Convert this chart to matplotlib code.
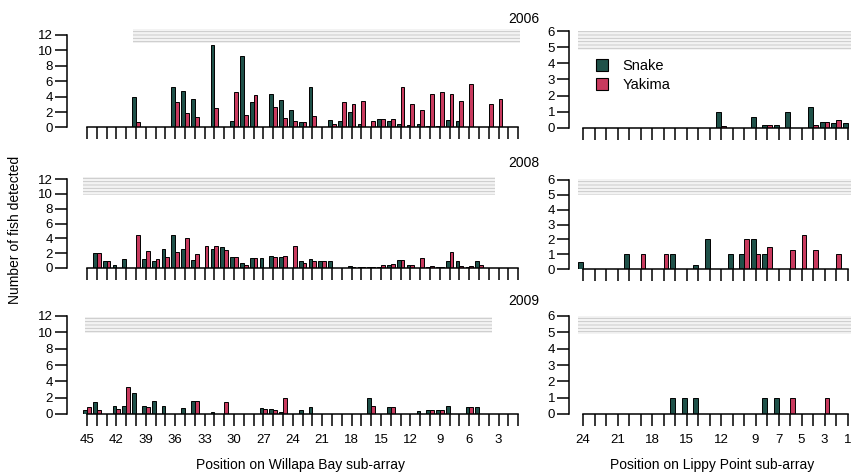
import numpy as np
import matplotlib
matplotlib.use('Agg')
import matplotlib.pyplot as plt
from matplotlib.patches import Patch, Rectangle

plt.rcParams['font.family'] = ['Liberation Sans', 'DejaVu Sans']
plt.rcParams['hatch.linewidth'] = 0.6
plt.rcParams['axes.linewidth'] = 1.1

# Willapa Bay sub-array, positions 45 -> 1
willapa_pos = np.arange(45, 0, -1)
willapa_ticklabels = [str(p) if p % 3 == 0 else '' for p in willapa_pos]

w06_snake = [0, 0, 0, 0, 0, 4.0, 0, 0, 0, 5.3, 4.7, 3.7, 0, 10.7, 0, 0.9, 9.3, 3.3, 0, 4.3, 3.6, 2.3, 0.7,
             5.3, 0, 1.0, 0.9, 2.0, 0.5, 0, 1.1, 0.9, 0.5, 0.35, 0.4, 0.2, 0.2, 1.0, 0.9, 0, 0, 0, 0, 0, 0]
w06_yakima = [0, 0, 0, 0, 0, 0.7, 0, 0, 0, 3.3, 1.9, 1.4, 0, 2.5, 0, 4.6, 1.6, 4.2, 0, 2.7, 1.2, 0.9, 0.7,
              1.5, 0, 0.5, 3.3, 3.0, 3.4, 0.9, 1.1, 1.1, 5.3, 3.0, 2.3, 4.3, 4.6, 4.3, 3.4, 5.6, 0, 3.1, 3.7, 0, 0]

w08_snake = [0, 2.0, 1.0, 0.35, 1.25, 0, 1.2, 1.0, 2.5, 4.5, 2.5, 1.1, 0, 2.5, 2.8, 1.5, 0.7, 1.4, 1.4, 1.6, 1.5,
             0, 0.9, 1.2, 1.0, 0.9, 0, 0.3, 0.2, 0.2, 0.2, 0.4, 1.1, 0.45, 0, 0.2, 0.2, 0.9, 1.0, 0.2, 1.0, 0, 0, 0, 0]
w08_yakima = [0, 2.0, 0.9, 0, 0, 4.5, 2.25, 1.2, 1.5, 2.1, 4.0, 1.9, 2.9, 3.0, 2.4, 1.5, 0.45, 1.4, 0, 1.45, 1.6,
              3.0, 0.7, 0.9, 1.0, 0, 0, 0.2, 0.2, 0.2, 0.4, 0.5, 1.1, 0.45, 1.35, 0.3, 0.2, 2.1, 0.3, 0.3, 0.4, 0, 0, 0, 0]

w09_snake = [0.5, 1.5, 0, 1.0, 1.0, 2.6, 1.0, 1.55, 1.0, 0, 0.7, 1.55, 0, 0.2, 0, 0, 0, 0, 0.75, 0.6, 0.3,
             0, 0.5, 0.9, 0, 0, 0, 0, 0, 2.0, 0, 0.9, 0, 0, 0.35, 0.45, 0.5, 1.0, 0, 0.9, 0.9, 0, 0, 0, 0]
w09_yakima = [0.9, 0.5, 0, 0.6, 3.3, 0, 0.9, 0, 0, 0, 0, 1.55, 0, 0, 1.5, 0, 0, 0, 0.6, 0.5, 2.0,
              0, 0, 0, 0, 0, 0, 0, 0, 1.0, 0, 0.9, 0, 0, 0, 0.45, 0.5, 0, 0, 0.9, 0, 0, 0, 0, 0]

# Lippy Point sub-array, positions 24 -> 1
lippy_pos = np.arange(24, 0, -1)
lippy_ticklabels = [str(p) if p in (24, 21, 18, 15, 12, 9, 7, 5, 3, 1) else '' for p in lippy_pos]

l06_snake = [0, 0, 0, 0, 0, 0, 0, 0, 0, 0, 0, 0, 1.0, 0, 0, 0.7, 0.2, 0.2, 1.0, 0, 1.3, 0.35, 0.3, 0.3]
l06_yakima = [0, 0, 0, 0, 0, 0, 0, 0, 0, 0, 0, 0, 0.15, 0, 0, 0, 0.2, 0, 0, 0, 0.2, 0.35, 0.5, 0]

l08_snake = [0.5, 0, 0, 0, 1.0, 0, 0, 0, 1.0, 0, 0.3, 2.0, 0, 1.0, 1.0, 2.0, 1.0, 0, 0, 0, 0, 0, 0, 0]
l08_yakima = [0, 0, 0, 0, 0, 1.0, 0, 1.0, 0, 0, 0, 0, 0, 0, 2.0, 1.0, 1.5, 0, 1.3, 2.3, 1.3, 0, 1.0, 0]

l09_snake = [0, 0, 0, 0, 0, 0, 0, 0, 1.0, 1.0, 1.0, 0, 0, 0, 0, 0, 1.0, 1.0, 0, 0, 0, 0, 0, 0]
l09_yakima = [0, 0, 0, 0, 0, 0, 0, 0, 0, 0, 0, 0, 0, 0, 0, 0, 0, 0, 1.0, 0, 0, 1.0, 0, 0]

years = ['2006', '2008', '2009']
snake_col = '#1f5149'
yakima_col = '#c83a5e'

W, H = 851, 476
fig = plt.figure(figsize=(W / 100, H / 100), dpi=100)


def place(x0, x1, y_zero, y_top):
    return [x0 / W, 1 - y_zero / H, (x1 - x0) / W, (y_zero - y_top) / H]


def panel(ax, pos, snake, yakima, ymax, ystep, w, ticklabels, bottom, band):
    ax.bar(pos + w / 2, snake, width=w, color=snake_col, edgecolor='black', linewidth=0.7)
    ax.bar(pos - w / 2, yakima, width=w, color=yakima_col, edgecolor='black', linewidth=0.7)
    ax.spines['top'].set_visible(False)
    ax.spines['right'].set_visible(False)
    ax.spines['left'].set_bounds(0, ymax)
    ax.spines['bottom'].set_bounds(pos[0], pos[-1])
    ax.set_yticks(np.arange(0, ymax + 0.1, ystep))
    ax.set_xticks(pos)
    if bottom:
        ax.set_xticklabels(ticklabels)
    else:
        ax.set_xticklabels([])
    ax.tick_params(axis='both', direction='out', length=8.5, width=1.1, labelsize=9.5)
    ax.tick_params(axis='x', pad=6)
    ax.tick_params(axis='y', pad=1.5)
    ax.set_facecolor('none')
    # faint ghost band near the top of each panel
    x0, x1, y0, y1 = band
    ax.add_patch(Rectangle((x0, y0), x1 - x0, y1 - y0, facecolor='#f3f3f3', edgecolor='#c4c4c4',
                           hatch='-----', linewidth=0, clip_on=False, zorder=0))


left_rows = [(127.5, 35), (268, 179), (414, 316)]
right_rows = [(128, 31), (269, 180), (414, 316)]
left_bands = [(40.3, 0.8, 10.9, 12.8), (45.4, 3.4, 9.8, 12.3), (45.2, 3.7, 9.9, 11.9)]
right_bands = [(24.4, 0.5, 4.8, 6.0), (24.4, 0.5, 5.0, 6.1), (24.4, 0.5, 4.9, 6.0)]

left_data = [(w06_snake, w06_yakima), (w08_snake, w08_yakima), (w09_snake, w09_yakima)]
right_data = [(l06_snake, l06_yakima), (l08_snake, l08_yakima), (l09_snake, l09_yakima)]

for r in range(3):
    yz, yt = left_rows[r]
    top = yz - 12.6 * (yz - yt) / 12
    ax = fig.add_axes(place(67, 530, yz, top))
    panel(ax, willapa_pos, np.array(left_data[r][0]), np.array(left_data[r][1]), 12, 2, 0.38,
          willapa_ticklabels, r == 2, left_bands[r])
    ax.set_xlim(47.04, -0.2)
    ax.set_ylim(0, 12.6)

    yz, yt = right_rows[r]
    top = yz - 6.3 * (yz - yt) / 6
    axr = fig.add_axes(place(569, 862, yz, top))
    panel(axr, lippy_pos, np.array(right_data[r][0]), np.array(right_data[r][1]), 6, 1, 0.4,
          lippy_ticklabels, r == 2, right_bands[r])
    axr.set_xlim(25.22, -0.26)
    axr.set_ylim(0, 6.3)
    if r == 0:
        handles = [Patch(facecolor=snake_col, edgecolor='black', linewidth=0.8, label='Snake'),
                   Patch(facecolor=yakima_col, edgecolor='black', linewidth=0.8, label='Yakima')]
        fig.legend(handles=handles, loc='upper left', bbox_to_anchor=(596 / W, 1 - 59 / H),
                   frameon=False, fontsize=10.5, handlelength=0.8, handleheight=0.8,
                   handletextpad=1.0, labelspacing=0.35, borderpad=0, borderaxespad=0)

for yr, ypx in zip(years, [19, 163, 301]):
    fig.text(539 / W, 1 - ypx / H, yr, ha='right', va='center', fontsize=10)

fig.text(15 / W, 1 - 230 / H, 'Number of fish detected', rotation=90, ha='center', va='center', fontsize=10)
fig.text(300 / W, 1 - 465 / H, 'Position on Willapa Bay sub-array', ha='center', va='center', fontsize=10)
fig.text(712 / W, 1 - 465 / H, 'Position on Lippy Point sub-array', ha='center', va='center', fontsize=10)

fig.savefig('out.png', dpi=100)
